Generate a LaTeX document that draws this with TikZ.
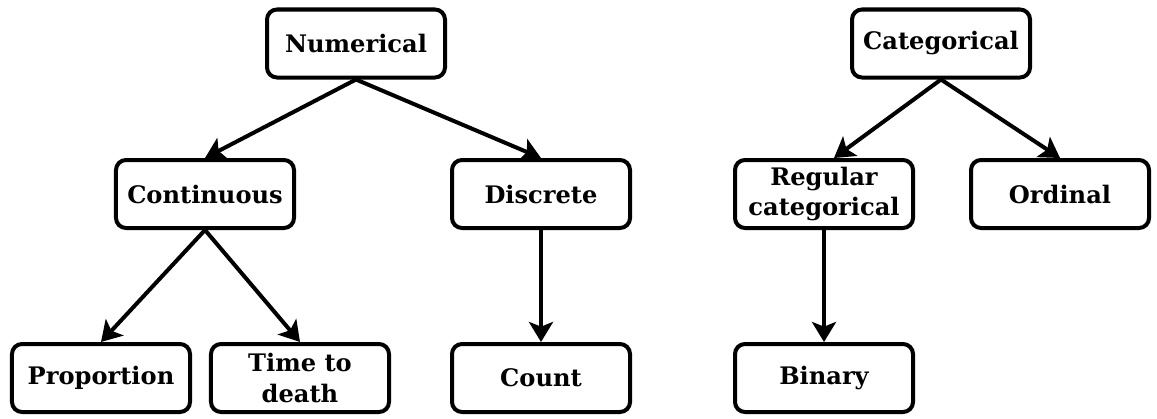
\documentclass[tikz,border=0pt]{standalone}
\usepackage{fontspec}
\setmainfont{DejaVu Serif}
\usetikzlibrary{arrows.meta}

\begin{document}
\begin{tikzpicture}[x=0.03cm, y=-0.03cm,
		databox/.style={draw, line width=0.12cm, rounded corners=0.3cm, minimum width=5.34cm, minimum height=2.04cm, align=center, inner sep=0pt, font=\fontsize{20.6}{26}\selectfont\bfseries},
		datalink/.style={line width=0.12cm, -{Stealth[length=0.6cm, width=0.72cm, inset=0.14cm]}}]
			%%%%% START %%%%%
			
			\useasboundingbox (0, 0) rectangle (1157, 418);
			
			\node[databox] (numerical) at (356, 43.5) {Numerical};
			\node[databox] (continuous) at (205, 194) {Continuous};
			\node[databox] (discrete) at (541, 194) {Discrete};
			\node[databox] (proportion) at (101, 378) {Proportion};
			\node[databox] (timetodeath) at (300, 378) {Time to\\death};
			\node[databox] (count) at (541, 378) {Count};
			
			\node[databox] (categorical) at (941, 43.5) {Categorical};
			\node[databox] (regular) at (824, 194) {Regular\\categorical};
			\node[databox] (ordinal) at (1060, 194) {Ordinal};
			\node[databox] (binary) at (824, 378) {Binary};
			
			\draw[datalink] (numerical.south) -- (continuous.north);
			\draw[datalink] (numerical.south) -- (discrete.north);
			\draw[datalink] (continuous.south) -- (proportion.north);
			\draw[datalink] (continuous.south) -- (timetodeath.north);
			\draw[datalink] (discrete.south) -- (count.north);
			
			\draw[datalink] (categorical.south) -- ([xshift=0.3cm]regular.north);
			\draw[datalink] (categorical.south) -- (ordinal.north);
			\draw[datalink] (regular.south) -- (binary.north);
			
			%%%%% END %%%%%
		\end{tikzpicture}
\end{document}
